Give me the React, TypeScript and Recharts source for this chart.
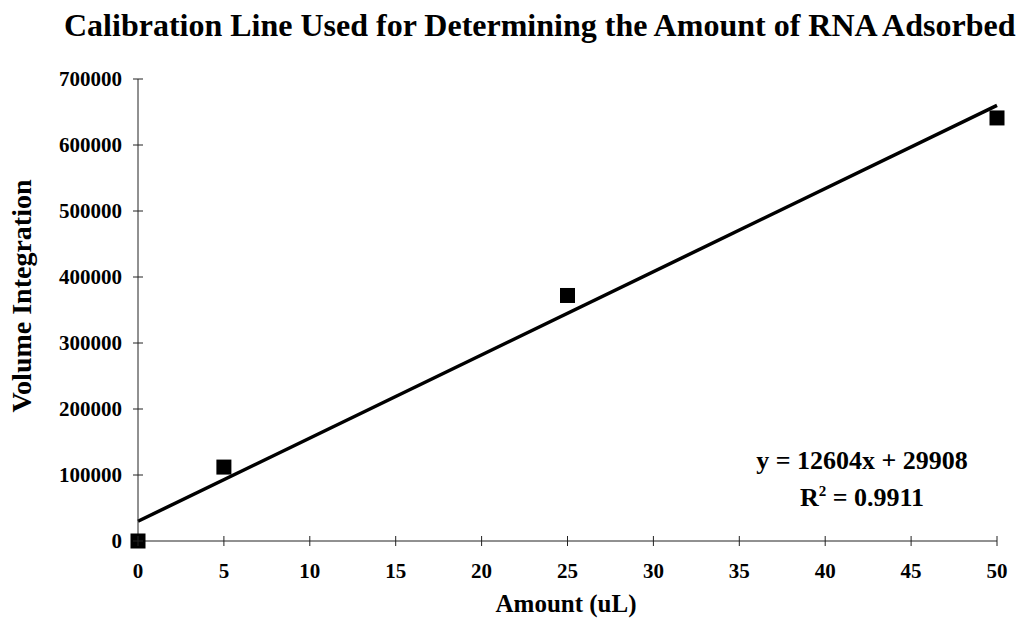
import React from 'react';
import { ComposedChart, Scatter, Line, XAxis, YAxis, Label } from 'recharts';

const amounts = [0, 5, 25, 50];
const volumes = [0, 112000, 372000, 641000];
const trendX = [0, 50];
const trendY = [29908, 660108];
const xTicks = [0, 5, 10, 15, 20, 25, 30, 35, 40, 45, 50];
const yTicks = [0, 100000, 200000, 300000, 400000, 500000, 600000, 700000];

const points = amounts.map((x, i) => ({ x, y: volumes[i] }));
const trend = trendX.map((x, i) => ({ x, y: trendY[i] }));

const FONT = '"Liberation Serif", "Times New Roman", serif';
const AXIS = '#222';

const XTick = (props: any) => {
  const { x, y, payload } = props;
  return (
    <g>
      <line x1={x} x2={x} y1={y - 5} y2={y + 5} stroke={AXIS} strokeWidth={1} />
      <text x={x} y={y + 37} textAnchor="middle" fontFamily={FONT} fontWeight="bold" fontSize={21} fill="#000">
        {payload.value}
      </text>
    </g>
  );
};

const YTick = (props: any) => {
  const { x, y, payload } = props;
  return (
    <g>
      <line x1={x - 5} x2={x + 5} y1={y} y2={y} stroke={AXIS} strokeWidth={1} />
      <text x={x - 16} y={y + 7} textAnchor="end" fontFamily={FONT} fontWeight="bold" fontSize={21} fill="#000">
        {payload.value}
      </text>
    </g>
  );
};

const Square = (props: any) => {
  const { cx, cy } = props;
  return <rect x={cx - 7.5} y={cy - 7.5} width={15} height={15} fill="#000" />;
};

const eqStyle: React.CSSProperties = {
  position: 'absolute',
  left: 700,
  width: 324,
  textAlign: 'center',
  fontSize: 26,
  fontWeight: 'bold',
  lineHeight: '26px',
  whiteSpace: 'nowrap',
};

export default function App() {
  return (
    <div style={{ position: 'absolute', left: 0, top: 0, width: 1026, height: 630, background: '#fff', fontFamily: FONT }}>
      <div style={{ position: 'absolute', left: 64, top: 9, fontSize: 32, lineHeight: '32px', fontWeight: 'bold', whiteSpace: 'nowrap' }}>
        Calibration Line Used for Determining the Amount of RNA Adsorbed
      </div>
      <div style={{ ...eqStyle, top: 448 }}>y = 12604x + 29908</div>
      <div style={{ ...eqStyle, top: 478 }}>
        R<sup style={{ fontSize: 15, verticalAlign: 10 }}>2</sup> = 0.9911
      </div>
      <ComposedChart width={1026} height={630} margin={{ top: 79, right: 29, left: 0, bottom: 0 }}>
        <XAxis
          type="number"
          dataKey="x"
          domain={[0, 50]}
          ticks={xTicks}
          interval={0}
          height={89}
          tickSize={0}
          tickMargin={0}
          tickLine={false}
          tick={<XTick />}
          stroke={AXIS}
        >
          <Label
            content={() => (
              <text x={566} y={612} textAnchor="middle" fontFamily={FONT} fontWeight="bold" fontSize={25} fill="#000">
                Amount (uL)
              </text>
            )}
          />
        </XAxis>
        <YAxis
          type="number"
          dataKey="y"
          domain={[0, 700000]}
          ticks={yTicks}
          interval={0}
          width={138}
          tickSize={0}
          tickMargin={0}
          tickLine={false}
          tick={<YTick />}
          stroke={AXIS}
        >
          <Label
            content={() => (
              <text x={31} y={296} transform="rotate(-90 31 296)" textAnchor="middle" fontFamily={FONT} fontWeight="bold" fontSize={28} fill="#000">
                Volume Integration
              </text>
            )}
          />
        </YAxis>
        <Line data={trend} dataKey="y" type="linear" stroke="#000" strokeWidth={3.5} dot={false} isAnimationActive={false} />
        <Scatter data={points} dataKey="y" shape={<Square />} isAnimationActive={false} />
      </ComposedChart>
    </div>
  );
}
